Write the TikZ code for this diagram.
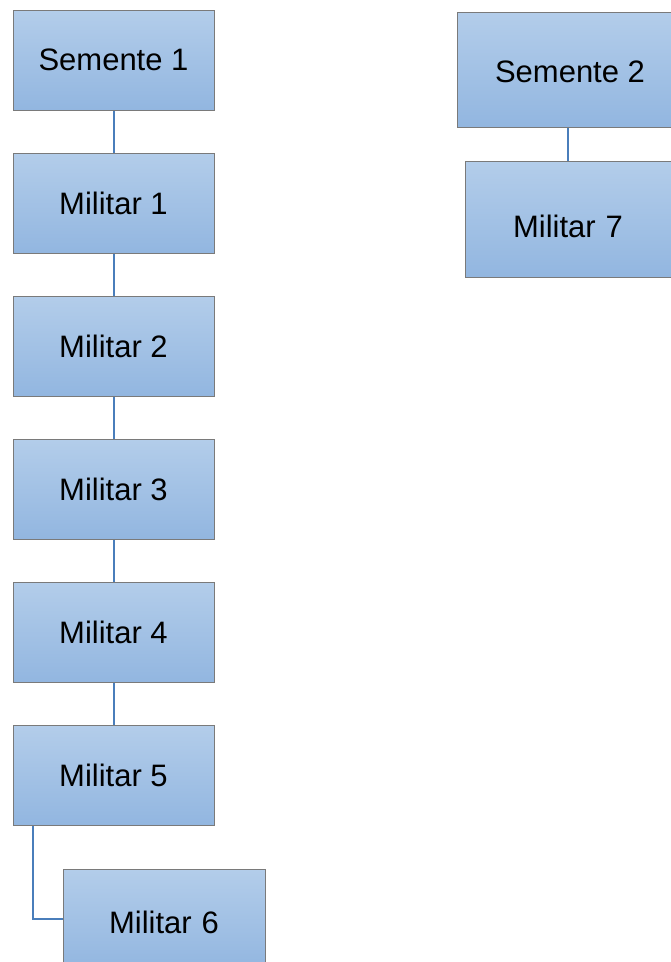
\documentclass[tikz,border=0pt]{standalone}
\usepackage{fontspec}
\setmainfont{Liberation Sans}
\definecolor{boxtop}{HTML}{B3CDEA}
\definecolor{boxbot}{HTML}{92B6E0}
\definecolor{boxedge}{HTML}{7A7A7A}
\definecolor{linkcol}{HTML}{4A7EBB}
\newcommand{\lowtext}[2]{\raisebox{-#1}[\height][\depth]{#2}}
\begin{document}
\begin{tikzpicture}[x=1pt,y=-1pt,
  box/.style={rectangle, draw=boxedge, line width=1pt, top color=boxtop, bottom color=boxbot,
    inner sep=0pt, font=\fontsize{31}{36}\selectfont, text=black},
  conn/.style={draw=linkcol, line width=2pt}]
\useasboundingbox (0,0) rectangle (671,962);
\begin{scope}
\clip (0,0) rectangle (671,962);
\node[box, minimum width=201pt, minimum height=100pt] (s1) at (113.5,60) {Semente 1};
\node[box, minimum width=201pt, minimum height=100pt] (m1) at (113.5,203) {Militar 1};
\node[box, minimum width=201pt, minimum height=100pt] (m2) at (113.5,346) {Militar 2};
\node[box, minimum width=201pt, minimum height=100pt] (m3) at (113.5,489) {Militar 3};
\node[box, minimum width=201pt, minimum height=100pt] (m4) at (113.5,632) {Militar 4};
\node[box, minimum width=201pt, minimum height=100pt] (m5) at (113.5,775.5) {Militar 5};
\node[box, minimum width=202pt, minimum height=100pt] (m6) at (164,919) {\lowtext{3pt}{Militar\hspace{10pt}6}};
\node[box, minimum width=226pt, minimum height=115pt] (s2) at (570,69.5) {\lowtext{2pt}{Semente 2}};
\node[box, minimum width=206pt, minimum height=116pt] (m7) at (568,219) {\lowtext{7pt}{Militar\hspace{10pt}7}};
\coordinate (bend) at (33,919);
\draw[conn] (s1.south) -- (m1.north);
\draw[conn] (m1.south) -- (m2.north);
\draw[conn] (m2.south) -- (m3.north);
\draw[conn] (m3.south) -- (m4.north);
\draw[conn] (m4.south) -- (m5.north);
\draw[conn] (m5.south west -| bend) -- (bend) -- (m6.west);
\draw[conn] (s2.south -| m7.north) -- (m7.north);
\end{scope}
\end{tikzpicture}
\end{document}
